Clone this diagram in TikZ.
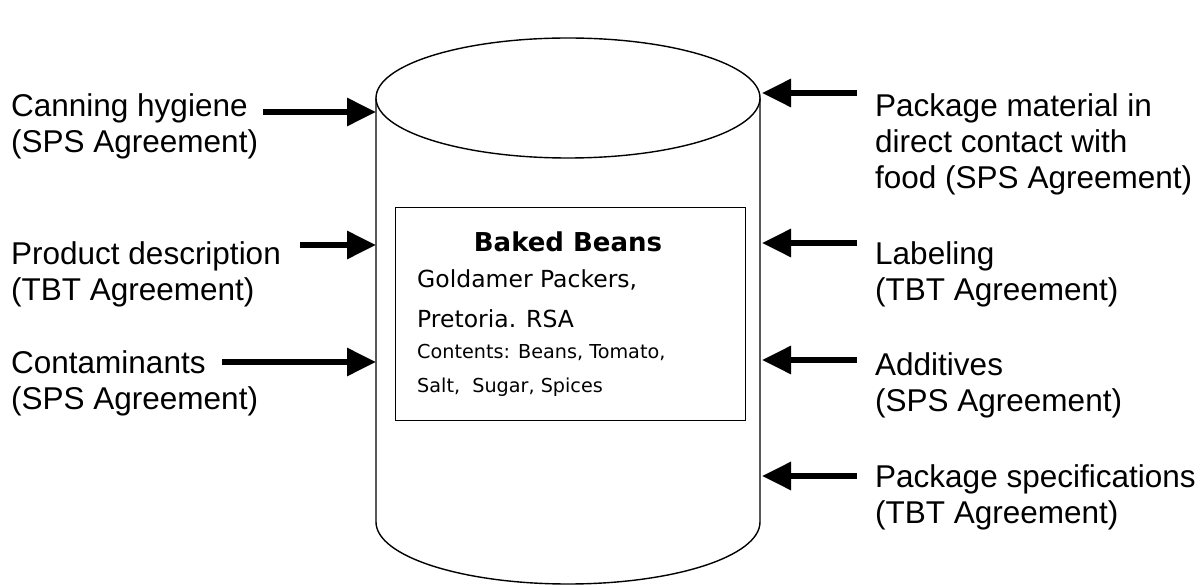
\documentclass[tikz,border=0pt]{standalone}
\usepackage{fontspec}
\setmainfont{Liberation Sans}
\newfontfamily\boxfont{DejaVu Sans}
\usetikzlibrary{arrows.meta}

\begin{document}
\begin{tikzpicture}[x=1pt,y=-1pt,
  outline/.style={line width=1.4pt},
  push/.style={line width=6pt,-{Triangle[length=29pt,width=27pt]}},
  % multi-line tags are placed by the baseline of their last line
  tag/.style={anchor=base west,align=left,inner sep=0pt,font=\fontsize{31.5}{36}\selectfont},
  boxline/.style={anchor=base west,inner sep=0pt,font=\boxfont\fontsize{23.5}{28}\selectfont},
  boxsmall/.style={anchor=base west,inner sep=0pt,font=\boxfont\fontsize{19.2}{23}\selectfont},
]
\useasboundingbox (0,0) rectangle (1202,585);

% the can: open side walls with a rounded bottom, and the lid
\draw[outline] (376,98) -- (376,522)
  arc[start angle=180,end angle=0,x radius=192,y radius=62] -- (760,98);
\draw[outline,fill=white] (568,98) ellipse[x radius=192,y radius=60];

% the printed label on the can
\node[draw,outline,anchor=north west,minimum width=350pt,minimum height=213pt,inner sep=0pt] (lbl) at (395,207) {};
\node[anchor=base,inner sep=0pt,font=\boxfont\bfseries\fontsize{26}{30}\selectfont] (title) at (568,252) {Baked Beans};
\node[boxline] (maker) at (417,288) {Goldamer Packers,};
\node[boxline] (town) at (417,327) {Pretoria. RSA};
\node[boxsmall] (contents) at (417,358) {Contents: Beans, Tomato,};
\node[boxsmall] (contents2) at (417,392) {Salt,\ \ Sugar, Spices};

% points on the can where the measures act
\coordinate (canL1) at (376,112);
\coordinate (canL2) at (376,245);
\coordinate (canL3) at (376,362);
\coordinate (canR1) at (762,93);
\coordinate (canR2) at (762,243);
\coordinate (canR3) at (762,360);
\coordinate (canR4) at (762,476);

% left side measures
\node[tag] (hyg) at (11,153) {Canning hygiene\\(SPS Agreement)};
\node[tag] (desc) at (11,301) {Product description\\(TBT Agreement)};
\node[tag] (contam) at (11,409) {Contaminants\\(SPS Agreement)};
\coordinate (tL1) at (263,112);
\coordinate (tL2) at (300,245);
\coordinate (tL3) at (222,362);
\draw[push] (tL1) -- (canL1);
\draw[push] (tL2) -- (canL2);
\draw[push] (tL3) -- (canL3);

% right side measures
\node[tag] (pack) at (875,189) {Package material in\\direct contact with\\food (SPS Agreement)};
\node[tag] (lab) at (875,301) {Labeling\\(TBT Agreement)};
\node[tag] (add) at (875,411) {Additives\\(SPS Agreement)};
\node[tag] (spec) at (875,523) {Package specifications\\(TBT Agreement)};
\coordinate (tR1) at (857,93);
\coordinate (tR2) at (857,243);
\coordinate (tR3) at (857,360);
\coordinate (tR4) at (857,476);
\draw[push] (tR1) -- (canR1);
\draw[push] (tR2) -- (canR2);
\draw[push] (tR3) -- (canR3);
\draw[push] (tR4) -- (canR4);
\end{tikzpicture}
\end{document}
